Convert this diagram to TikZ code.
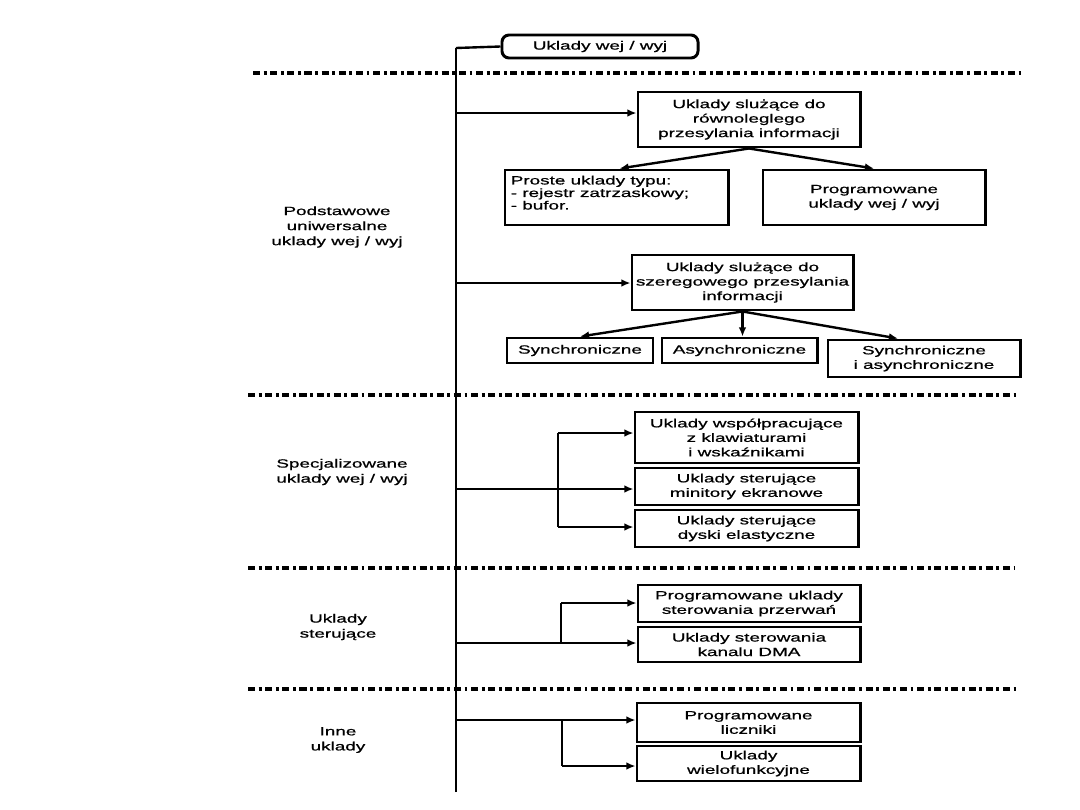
\documentclass[tikz,border=0pt]{standalone}
\usepackage{fontspec}
\setmainfont[FakeStretch=1.58,FakeBold=0.8]{Liberation Sans}
\usetikzlibrary{arrows.meta,calc}
\begin{document}
\begin{tikzpicture}[x=0.025cm,y=-0.025cm,
  box/.style={draw,line width=2.1pt,inner sep=0pt,align=center,font=\fontsize{8.5}{10.3}\selectfont},
  rect/.style n args={4}{minimum width={(#3-#1)*0.7113pt},minimum height={(#4-#2)*0.7113pt},at={({(#1+#3)/2},{(#2+#4)/2})}},
  conn/.style={line width=1.7pt,-{Latex[length=6.5pt,width=5.5pt]}},
  wire/.style={line width=1.7pt},
  sep/.style={line width=2.2pt,dash pattern=on 5pt off 2.6pt on 2pt off 2.6pt},
  lab/.style={align=center,font=\fontsize{8.5}{10.7}\selectfont}]
\useasboundingbox (0,0) rectangle (1080,810);

% trunk
\coordinate (top) at (456,48);
\coordinate (bot) at (456,792);
\draw[wire] (bot) -- (top);

% top box
\node[box,rounded corners=5pt,rect={502}{35}{698}{58}] (root) {Uklady wej / wyj};
\draw[wire] (top) -- (root.west);

% separators
\draw[sep] (253,73) -- (1025,73);
\draw[sep] (248,395) -- (1020,395);
\draw[sep] (248,568) -- (1015,568);
\draw[sep] (248,689) -- (1018,689);

% section labels
\node[lab] (l1) at (337,227) {Podstawowe\\uniwersalne\\uklady wej / wyj};
\node[lab] (l2) at (342,472) {Specjalizowane\\uklady wej / wyj};
\node[lab] (l3) at (338,627) {Uklady\\sterujące};
\node[lab] (l4) at (338,740) {Inne\\uklady};

% parallel
\node[box,rect={638}{92}{860}{147}] (par) {Uklady slużące do\\równoleglego\\przesylania informacji};
\coordinate (t1) at (456,113);
\draw[conn] (t1) -- (t1 -| par.west);
\node[box,rect={505}{170}{728}{225}] (proste) {};
\node[anchor=north west,align=left,inner sep=0pt,font=\fontsize{8.5}{8.9}\selectfont]
  (prostetxt) at ($(proste.north west)+(7,7)$) {Proste uklady typu:\\ - rejestr zatrzaskowy;\\ - bufor.};
\node[box,rect={763}{170}{985}{225}] (prog) {Programowane\\uklady wej / wyj};
\draw[conn] (par.south) -- ($(proste.north)+(3,0)$);
\draw[conn] (par.south) -- (prog.north);

% serial
\node[box,rect={632}{255}{853}{310}] (ser) {Uklady slużące do\\szeregowego przesylania\\informacji};
\coordinate (t2) at (456,283);
\draw[conn] (t2) -- (t2 -| ser.west);
\node[box,rect={507}{338}{653}{363}] (syn) {Synchroniczne};
\node[box,rect={662}{338}{817}{363}] (asyn) {Asynchroniczne};
\node[box,rect={828}{340}{1020}{377}] (both) {Synchroniczne\\i asynchroniczne};
\draw[conn] (ser.south) -- (syn.north);
\draw[conn] (ser.south) -- (ser.south |- asyn.north);
\draw[conn] (ser.south) -- ($(both.north)+(-26,0)$);

% specialised
\node[box,rect={635}{412}{858}{463}] (s1) {Uklady współpracujące\\z klawiaturami\\i wskaźnikami};
\node[box,rect={635}{468}{858}{505}] (s2) {Uklady sterujące\\minitory ekranowe};
\node[box,rect={635}{510}{858}{547}] (s3) {Uklady sterujące\\dyski elastyczne};
\coordinate (t3) at (456,489);
\coordinate (b3a) at (558,433);
\coordinate (b3b) at (558,527);
\draw[conn] (t3) -- (t3 -| s2.west);
\draw[wire] (b3a) -- (b3b);
\draw[conn] (b3a) -- (b3a -| s1.west);
\draw[conn] (b3b) -- (b3b -| s3.west);

% control
\node[box,rect={638}{585}{860}{622}] (c1) {Programowane uklady\\sterowania przerwań};
\node[box,rect={638}{627}{860}{662}] (c2) {Uklady sterowania\\kanalu DMA};
\coordinate (t4) at (456,643);
\coordinate (b4a) at (561,603);
\coordinate (b4b) at (561,643);
\draw[conn] (t4) -- (t4 -| c2.west);
\draw[wire] (b4b) -- (b4a);
\draw[conn] (b4a) -- (b4a -| c1.west);

% other
\node[box,rect={637}{703}{860}{742}] (i1) {Programowane\\liczniki};
\node[box,rect={637}{746}{860}{781}] (i2) {Uklady\\wielofunkcyjne};
\coordinate (t5) at (456,720);
\coordinate (b5a) at (562,720);
\coordinate (b5b) at (562,766);
\draw[conn] (t5) -- (t5 -| i1.west);
\draw[wire] (b5a) -- (b5b);
\draw[conn] (b5b) -- (b5b -| i2.west);
\end{tikzpicture}
\end{document}
